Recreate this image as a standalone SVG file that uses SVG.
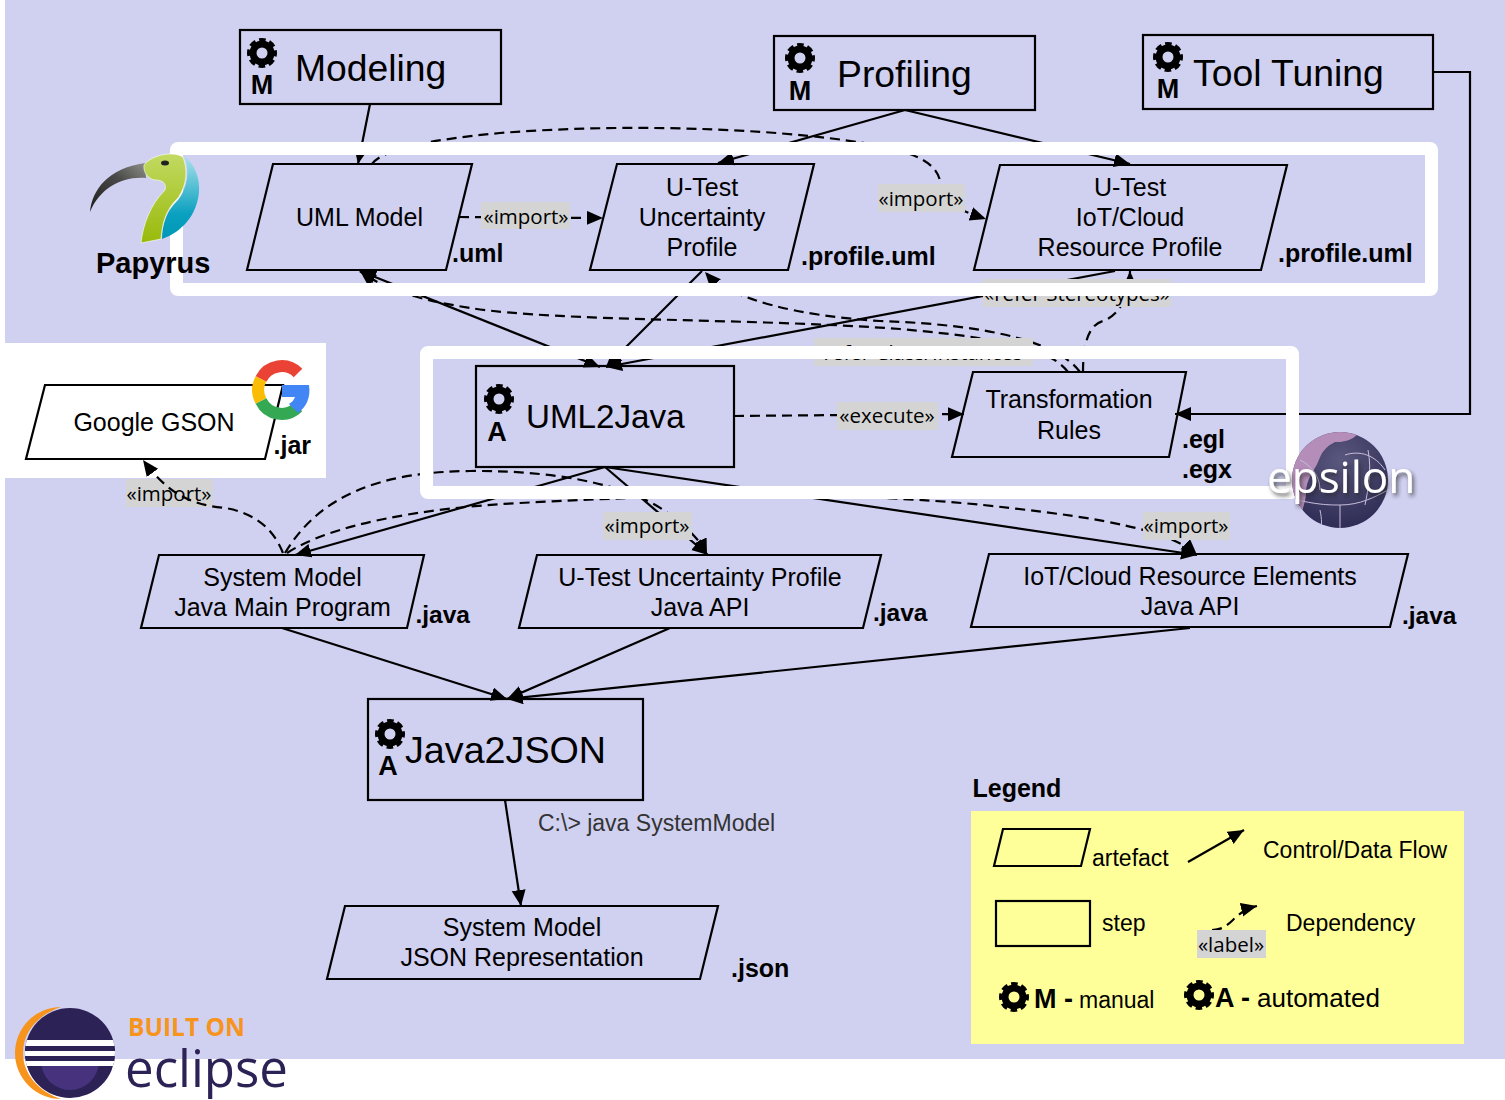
<svg xmlns="http://www.w3.org/2000/svg" xmlns:xlink="http://www.w3.org/1999/xlink" width="1505" height="1100" viewBox="0 0 1505 1100">
<style>
text{font-family:"Liberation Sans",Arial,sans-serif;fill:#000}
.n{fill:none;stroke:#000;stroke-width:2.2}
.a{font-size:25px;text-anchor:middle}
.ext{font-size:25px;font-weight:bold}
.step{font-size:37.3px}
.bm{font-size:27px;font-weight:bold;text-anchor:middle}
.lbl{font-family:"Open Sans",sans-serif;font-size:20.5px;text-anchor:middle}
.lb{fill:#D4D4D4}
.c{fill:none;stroke:#000;stroke-width:2.2}
.s{marker-end:url(#ah)}
.d{stroke-dasharray:10 6}
.lg{font-size:23px}
</style>
<defs>
<marker id="ah" markerUnits="userSpaceOnUse" markerWidth="18" markerHeight="16" refX="16" refY="7" orient="auto-start-reverse"><path d="M0,0L16,7L0,14Z" fill="#000"/></marker>
<g id="gear"><circle r="12.500" fill="none" stroke="#000" stroke-width="5" stroke-dasharray="6.200 3.617" stroke-dashoffset="3.100"/><circle r="9" fill="none" stroke="#000" stroke-width="7"/></g>
<linearGradient id="beak" x1="0" y1="1" x2="1" y2="0"><stop offset="0" stop-color="#1e1e1c"/><stop offset="0.6" stop-color="#4a4a48"/><stop offset="1" stop-color="#8f8f8a"/></linearGradient>
<linearGradient id="bgreen" x1="0" y1="0" x2="0" y2="1"><stop offset="0" stop-color="#c2da62"/><stop offset="1" stop-color="#98ba0a"/></linearGradient>
<linearGradient id="bblue" x1="0" y1="0" x2="0" y2="1"><stop offset="0" stop-color="#a8e2ea"/><stop offset="0.7" stop-color="#0aa0c0"/><stop offset="1" stop-color="#0098b8"/></linearGradient>
<radialGradient id="globe" cx="0.5" cy="0.3" r="0.7"><stop offset="0" stop-color="#5a587e"/><stop offset="1" stop-color="#2f2c55"/></radialGradient>
<clipPath id="gc"><circle cx="1340" cy="480" r="48"/></clipPath>
<clipPath id="ec"><circle cx="70" cy="1053" r="45"/></clipPath>
<filter id="sh" x="-10%" y="-20%" width="125%" height="150%"><feDropShadow dx="2" dy="3" stdDeviation="2" flood-color="#222" flood-opacity="0.7"/></filter>
</defs>

<rect id="background" x="5" y="0" width="1500" height="1059" fill="#D0D0F0"/>
<rect id="gson-panel" x="5" y="343" width="321" height="135" fill="#fff"/>

<g id="connectors">
<path class="c s" d="M370,104L358,164"/>
<path class="c s" d="M905,110L718,163"/>
<path class="c s" d="M905,110L1130,164"/>
<path class="c s" d="M1433,72H1470V414H1175"/>
<path class="c s" d="M600,367L360,271" marker-start="url(#ah)"/>
<path class="c s" d="M702,271L606,367"/>
<path class="c s" d="M1115,271L606,367"/>
<path class="c s" d="M605,467L295,555"/>
<path class="c s" d="M605,467L708,555"/>
<path class="c s" d="M605,467L1197,555"/>
<path class="c s" d="M282,628L507,699"/>
<path class="c s" d="M670,628L507,699"/>
<path class="c s" d="M1190,628L507,699"/>
<path class="c s" d="M505,800L521,906"/>

<path class="c d s" d="M459,217L603,218"/>
<path class="c d s" d="M734,416L964,414"/>
<path class="c d s" d="M372,164C382,150 425,140 500,133C640,122 800,130 880,146C930,156 941,170 941,190C945,205 965,212 986,219"/>
<path class="c d s" d="M1068,372C1050,348 1000,338 900,329C750,318 560,322 470,308C420,300 385,290 360,271"/>
<path class="c d s" d="M1080,372C1060,345 1000,325 880,321C800,316 730,300 705,272"/>
<path class="c d s" d="M1083,372C1083,345 1088,325 1103,321C1112,318 1120,310 1124,300C1128,290 1130,280 1130,271"/>
<path class="c d s" d="M285,553C320,495 380,472 470,471C570,470 640,490 670,515C690,530 700,540 707,555"/>
<path class="c d s" d="M287,553C330,525 420,508 520,503C700,493 880,492 1010,508C1100,518 1170,530 1197,555"/>

<rect class="lb" x="481" y="202" width="89" height="27"/><text class="lbl" x="526" y="224">«import»</text>
<rect class="lb" x="878" y="184" width="87" height="28"/><text class="lbl" x="921" y="206">«import»</text>
<rect class="lb" x="983" y="279" width="188" height="28"/><text class="lbl" x="1077" y="301">«refer Stereotypes»</text>
<rect class="lb" x="814" y="338" width="219" height="28"/><text class="lbl" x="923" y="360">«refer Class/Instances»</text>
<rect class="lb" x="837" y="402" width="101" height="28"/><text class="lbl" x="887" y="423">«execute»</text>
<rect class="lb" x="126" y="479" width="87" height="28"/><text class="lbl" x="169" y="501">«import»</text>
<rect class="lb" x="603" y="512" width="89" height="28"/><text class="lbl" x="647" y="533">«import»</text>
<rect class="lb" x="1143" y="512" width="87" height="28"/><text class="lbl" x="1186" y="533">«import»</text>
<path class="c d s" d="M283,553C272,525 250,512 225,508C195,505 170,497 143,460"/>
</g>

<path id="frames" fill="#fff" fill-rule="evenodd" d="M178,142H1430a8,8 0 0 1 8,8V288a8,8 0 0 1 -8,8H178a8,8 0 0 1 -8,-8V150a8,8 0 0 1 8,-8ZM183,155V283H1425V155ZM428,346H1291a8,8 0 0 1 8,8V491a8,8 0 0 1 -8,8H428a8,8 0 0 1 -8,-8V354a8,8 0 0 1 8,-8ZM433,359V486H1286V359Z"/>

<g id="node-modeling"><rect class="n" x="240" y="30" width="261" height="74"/><use href="#gear" x="262" y="53"/><text class="bm" x="262" y="94">M</text><text class="step" x="295" y="81">Modeling</text></g>
<g id="node-profiling"><rect class="n" x="774" y="36" width="261" height="74"/><use href="#gear" x="800" y="58"/><text class="bm" x="800" y="100">M</text><text class="step" x="837" y="87">Profiling</text></g>
<g id="node-tool-tuning"><rect class="n" x="1143" y="35" width="290" height="74"/><use href="#gear" x="1168" y="57"/><text class="bm" x="1168" y="98">M</text><text class="step" x="1193" y="86">Tool Tuning</text></g>

<g id="node-uml-model"><path class="n" d="M273,164H472L446,270H247Z"/><text class="a" x="359.500" y="226">UML Model</text><text class="ext" x="452" y="262">.uml</text></g>
<g id="node-utest-profile"><path class="n" d="M617,164H814L788,270H590Z"/><text class="a" x="702" y="196">U-Test</text><text class="a" x="702" y="226">Uncertainty</text><text class="a" x="702" y="256">Profile</text><text class="ext" x="801" y="265">.profile.uml</text></g>
<g id="node-iot-profile"><path class="n" d="M1000,165H1287L1261,270H974Z"/><text class="a" x="1130" y="196">U-Test</text><text class="a" x="1130" y="226">IoT/Cloud</text><text class="a" x="1130" y="256">Resource Profile</text><text class="ext" x="1278" y="262">.profile.uml</text></g>

<g id="node-uml2java"><rect class="n" x="476" y="366" width="258" height="101"/><use href="#gear" x="499" y="399"/><text class="bm" x="497" y="441">A</text><text class="step" x="526" y="428" style="font-size:33.200px">UML2Java</text></g>
<g id="node-rules"><path class="n" d="M973,372H1186L1169,457H952Z"/><text class="a" x="1069" y="408">Transformation</text><text class="a" x="1069" y="438.500">Rules</text><text class="ext" x="1182" y="448">.egl</text><text class="ext" x="1182" y="478">.egx</text></g>

<g id="node-gson"><path class="n" d="M45,385H283L265,459H26Z"/><text class="a" x="154" y="431">Google GSON</text><text class="ext" x="273.500" y="454">.jar</text>
<g id="google-logo" fill="none" stroke-width="12"><path stroke="#EA4335" d="M298,373A23,23 0 0 0 261,379"/><path stroke="#FBBC05" d="M261,379A23,23 0 0 0 261,401"/><path stroke="#34A853" d="M261,401A23,23 0 0 0 298,407"/><path stroke="none" fill="#4285F4" d="M282,385H309C311,398 306,407 298,413L289,404C292,402 294,400 295,397H282Z"/></g></g>

<g id="node-system-model"><path class="n" d="M159,555H424L407,628H141Z"/><text class="a" x="282.500" y="586">System Model</text><text class="a" x="282.500" y="616">Java Main Program</text><text class="ext" x="415.500" y="623" style="font-size:24.500px">.java</text></g>
<g id="node-utest-api"><path class="n" d="M537,555H881L863,628H519Z"/><text class="a" x="700" y="586">U-Test Uncertainty Profile</text><text class="a" x="700" y="616">Java API</text><text class="ext" x="873" y="621" style="font-size:24.500px">.java</text></g>
<g id="node-iot-api"><path class="n" d="M989,554H1408L1390,627H971Z"/><text class="a" x="1190" y="585">IoT/Cloud Resource Elements</text><text class="a" x="1190" y="615">Java API</text><text class="ext" x="1402" y="624" style="font-size:24.500px">.java</text></g>

<g id="node-java2json"><rect class="n" x="368" y="699" width="275" height="101"/><use href="#gear" x="390" y="734"/><text class="bm" x="388" y="775">A</text><text class="step" x="405" y="763" style="font-size:37.7px">Java2JSON</text></g>
<text id="command" x="538" y="831" style="font-size:23px;fill:#333">C:\&gt; java SystemModel</text>
<g id="node-json"><path class="n" d="M345,906H718L700,979H327Z"/><text class="a" x="522" y="936">System Model</text><text class="a" x="522" y="966">JSON Representation</text><text class="ext" x="731" y="977">.json</text></g>

<g id="papyrus-logo">
<path fill="url(#beak)" d="M90,212C92,190 108,168 145,163L146,178C122,176 100,188 90,212Z"/>
<path fill="url(#bblue)" d="M184,156C196,165 200,180 199,192C197,215 182,232 162,239C162,225 167,210 178,200C188,187 190,170 184,156Z"/>
<path fill="url(#bgreen)" stroke="#fff" stroke-width="0.6" d="M144,165C150,156 172,150 183,157C188,170 187,185 178,198C165,210 162,225 161,239L141,243C143,225 150,205 165,190C167,183 162,180 155,180C148,179 143,172 144,165Z"/>
<ellipse cx="165" cy="163" rx="4" ry="2.5" fill="#222"/>
<text x="96" y="273" style="font-size:29px;font-weight:bold">Papyrus</text>
</g>

<g id="epsilon-logo">
<circle cx="1340" cy="480" r="48" fill="url(#globe)"/>
<g clip-path="url(#gc)"><path fill="#B48DB8" d="M1285,430H1358C1360,437 1345,443 1335,442C1325,447 1322,452 1318,462C1315,470 1305,480 1306,495C1305,505 1300,515 1297,530H1285Z"/>
<path fill="none" stroke="#C9BEDC" stroke-width="1" d="M1297,500C1320,505 1330,505 1340,505C1360,505 1375,497 1388,490M1340,505V532M1345,455C1360,450 1375,455 1385,470M1368,450C1372,470 1368,490 1365,505M1300,460C1310,465 1320,475 1320,490M1320,510C1322,520 1322,525 1320,530"/></g>
<text x="1267" y="493" filter="url(#sh)" style="font-family:'Open Sans',sans-serif;font-size:44px;fill:#fff">epsilon</text>
</g>

<g id="eclipse-logo">
<path fill="#F7941E" d="M61,1007A46,46 0 0 0 61,1099C40,1092 23,1075 23,1053C23,1030 40,1014 61,1007Z"/>
<circle cx="70" cy="1053" r="45" fill="#2C2255"/>
<g clip-path="url(#ec)"><path d="M41,1061A29,29 0 0 0 99,1061Z" fill="#47337D"/><rect x="20" y="1040" width="100" height="6" fill="#fff"/><rect x="20" y="1046" width="100" height="5" fill="#2C2255"/><rect x="20" y="1051" width="100" height="5" fill="#fff"/><rect x="20" y="1056" width="100" height="5" fill="#2C2255"/><rect x="20" y="1061" width="100" height="5" fill="#fff"/></g>
<text x="128" y="1036" style="font-family:'Open Sans',sans-serif;font-size:24.500px;font-weight:bold;fill:#F7941E">BUILT ON</text>
<text x="125" y="1087" style="font-family:'Open Sans',sans-serif;font-size:51px;fill:#2C2255">eclipse</text>
</g>

<g id="legend">
<text x="972.500" y="797" style="font-size:25px;font-weight:bold">Legend</text>
<rect x="971" y="811" width="493" height="233" fill="#FFFF99"/>
<path class="n" d="M1003,829H1090L1081,866H994Z"/>
<text class="lg" x="1092" y="866">artefact</text>
<path class="c s" d="M1188,862L1244,830"/>
<text class="lg" x="1263" y="858">Control/Data Flow</text>
<rect class="n" x="996" y="901" width="94" height="45"/>
<text class="lg" x="1102" y="931">step</text>
<path class="c d s" d="M1212,930C1232,930 1232,912 1257,906"/>
<rect class="lb" x="1197" y="930" width="69" height="28"/><text class="lbl" x="1231" y="952">«label»</text>
<text class="lg" x="1286" y="931">Dependency</text>
<use href="#gear" x="1014" y="997"/>
<text x="1034" y="1008" style="font-size:27px;font-weight:bold">M -</text>
<text class="lg" x="1079" y="1008">manual</text>
<use href="#gear" x="1199" y="995"/>
<text x="1215" y="1007" style="font-size:27px;font-weight:bold">A -</text>
<text x="1257" y="1007" style="font-size:26px">automated</text>
</g>
</svg>
